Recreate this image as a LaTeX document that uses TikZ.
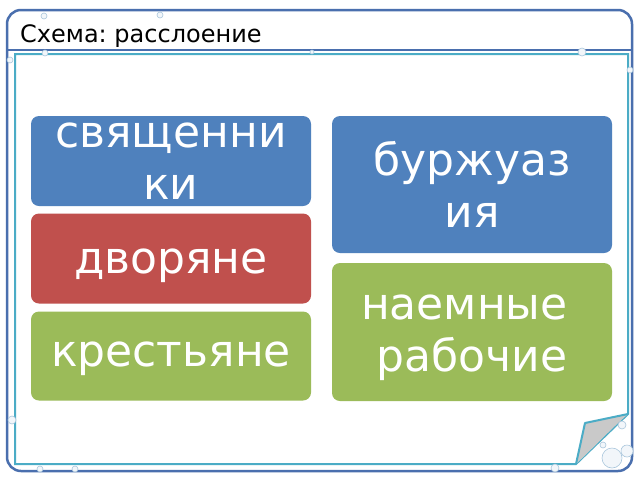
\documentclass[tikz,border=0pt]{standalone}
\usepackage{fontspec}
\setmainfont{DejaVu Sans}
\frenchspacing
\definecolor{frameblue}{HTML}{4A6FAE}
\definecolor{framecyan}{HTML}{4BACC6}
\definecolor{boxblue}{HTML}{4F81BD}
\definecolor{boxred}{HTML}{C0504D}
\definecolor{boxgreen}{HTML}{9BBB59}
\definecolor{foldgrey}{HTML}{C9C9C9}
\definecolor{bubble}{HTML}{A9C6DC}
\tikzset{
  box/.style={rounded corners=8pt, inner sep=0pt, minimum width=280pt},
  boxtext/.style={inner sep=0pt, text=white, align=center,
    font=\fontsize{44}{52}\selectfont},
  bub/.style={draw=bubble, line width=0.6pt, fill=bubble!15},
}
\begin{document}
\begin{tikzpicture}[x=1pt,y=-1pt]
\useasboundingbox (0,0) rectangle (640,480);
\fill[white] (0,0) rectangle (640,480);
% outer frame
\draw[frameblue, line width=2.5pt, rounded corners=14pt] (7,10) rectangle (632,471);
\draw[frameblue, line width=1.5pt] (7,50) -- (632,50);
\node[anchor=base west, inner sep=0pt, font=\fontsize{24}{28}\selectfont] (title) at (20,42) {Схема: расслоение};
% inner frame with folded corner
\draw[framecyan, line width=2pt, fill=white] (15,54) -- (628,54) -- (628,414) -- (576,464) -- (15,464) -- cycle;
\fill[foldgrey] (628,414) -- (585,423) -- (576,464) .. controls (595,446) and (610,430) .. (628,414);
\draw[framecyan, line width=2pt, line join=round] (628,414) -- (585,423) -- (576,464);
% bubbles
\draw[bub] (612,458) circle (10);
\draw[bub] (627,451) circle (6);
\draw[bub] (603,445) circle (3);
\draw[bub] (555,468) circle (4);
\draw[bub] (622,425) circle (4);
\draw[bub] (44,16) circle (3);
\draw[bub] (160,15) circle (3);
\draw[bub] (45,53) circle (3);
\draw[bub] (312,52) circle (2);
\draw[bub] (10,60) circle (3);
\draw[bub] (12,420) circle (4);
\draw[bub] (40,469) circle (3);
\draw[bub] (75,469) circle (3);
\draw[bub] (582,52) circle (4);
\draw[bub] (630,70) circle (3);
% boxes
\node[box, fill=boxblue, minimum height=90pt] (svyash) at (171,161) {};
\node[box, fill=boxred, minimum height=90pt] (dvor) at (171,258.5) {};
\node[box, fill=boxgreen, minimum height=89pt] (krest) at (171,356) {};
\node[box, fill=boxblue, minimum height=137pt] (burzh) at (472,184.5) {};
\node[box, fill=boxgreen, minimum height=138pt] (naem) at (472,332) {};
% texts
\node[boxtext] (svyash-t) at (svyash.center) {священни\\ки};
\node[boxtext, yshift=-7pt] (dvor-t) at (dvor.center) {дворяне};
\node[boxtext, yshift=-3pt] (krest-t) at (krest.center) {крестьяне};
\node[boxtext] (burzh-t) at (burzh.center) {буржуаз\\ия};
\node[boxtext, yshift=-6pt] (naem-t) at (naem.center) {наемные\hspace*{0.35em}\\рабочие};
\end{tikzpicture}
\end{document}
